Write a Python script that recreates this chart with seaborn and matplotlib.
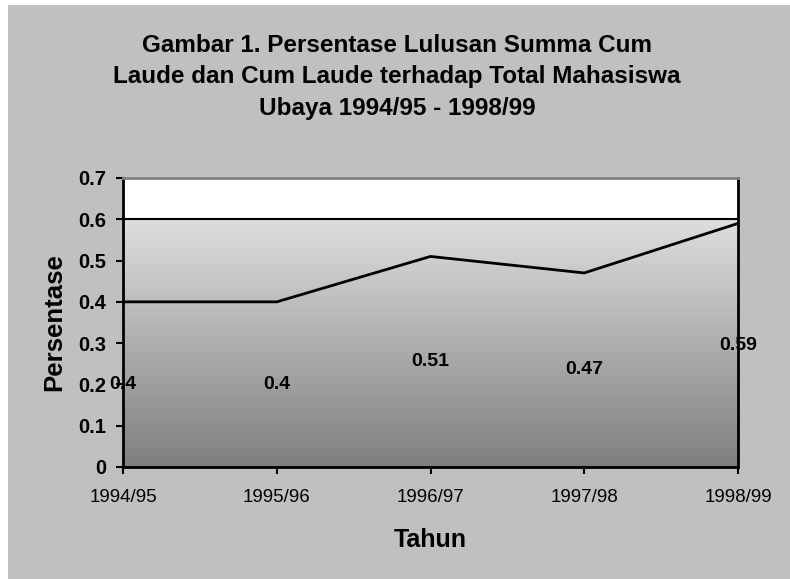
import numpy as np
import pandas as pd
import matplotlib
matplotlib.use('Agg')
import matplotlib.pyplot as plt
import seaborn as sns
from matplotlib.patches import Rectangle

tahun = ['1994/95', '1995/96', '1996/97', '1997/98', '1998/99']
persentase = [0.4, 0.4, 0.51, 0.47, 0.59]

data = pd.DataFrame({'Tahun': tahun, 'Persentase': persentase})
data['pos'] = range(len(data))

sns.set_style('white')
plt.rcParams['font.family'] = ['Liberation Sans', 'DejaVu Sans']
plt.rcParams.update({'text.color': 'black', 'axes.labelcolor': 'black',
                     'xtick.color': 'black', 'ytick.color': 'black'})

fig = plt.figure(figsize=(7.9, 5.79), dpi=100)
fig.patch.set_facecolor('white')
# grey chart area (thin white strip on top and left)
fig.patches.append(Rectangle((8 / 790, 0), 1, 1 - 5 / 579, transform=fig.transFigure,
                             facecolor='#c0c0c0', edgecolor='none', zorder=-10))

ax = fig.add_axes([123 / 790, 112 / 579, 615 / 790, 289 / 579])
ax.set_facecolor('white')

# gradient fill of the plot area from 0 to 0.6
grad = np.linspace(0, 1, 256).reshape(-1, 1)
ax.imshow(grad, extent=[0, 4, 0, 0.6], origin='lower', aspect='auto',
          cmap=matplotlib.colors.LinearSegmentedColormap.from_list('g', ['#7f7f7f', '#dedede']),
          zorder=0)
ax.axhline(0.6, color='black', lw=1.5, zorder=1)

sns.lineplot(data=data, x='pos', y='Persentase', color='black', lw=2, ax=ax, zorder=3)

for _, row in data.iterrows():
    ax.text(row['pos'], row['Persentase'] / 2, f"{row['Persentase']:g}", ha='center', va='center',
            fontsize=14, fontweight='bold', color='black', zorder=5, clip_on=False)

ax.set_xlim(0, 4)
ax.set_ylim(0, 0.7)
ax.set_xticks(data['pos'])
ax.set_xticklabels(tahun, fontsize=13.5)
ax.set_yticks(np.arange(0, 0.71, 0.1))
ax.set_yticklabels(['0', '0.1', '0.2', '0.3', '0.4', '0.5', '0.6', '0.7'],
                   fontsize=14.5, fontweight='bold')
ax.tick_params(axis='both', direction='out', length=5, width=1.5, color='black',
               left=True, bottom=True)
ax.tick_params(axis='y', pad=7)
ax.tick_params(axis='x', pad=11)

for s in ['left', 'bottom']:
    ax.spines[s].set_color('black')
    ax.spines[s].set_linewidth(2)
ax.spines['top'].set_color('#808080')
ax.spines['top'].set_linewidth(2)
ax.spines['right'].set_color('black')
ax.spines['right'].set_linewidth(2)

ax.set_xlabel('Tahun', fontsize=18, fontweight='bold', labelpad=16)
ax.set_ylabel('Persentase', fontsize=18.5, fontweight='bold', labelpad=9)

fig.text(397 / 790, 1 - 77 / 579,
         'Gambar 1. Persentase Lulusan Summa Cum\nLaude dan Cum Laude terhadap Total Mahasiswa\nUbaya 1994/95 - 1998/99',
         ha='center', va='center', fontsize=17.5, fontweight='bold', linespacing=1.5)

plt.savefig('out.png', dpi=100, facecolor=fig.get_facecolor())
